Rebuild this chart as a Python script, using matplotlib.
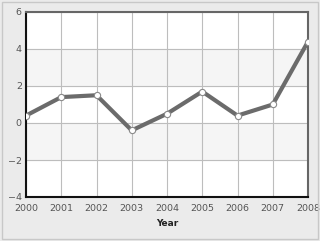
import matplotlib.pyplot as plt
import matplotlib.patches as mpatches
import numpy as np

years = [2000, 2001, 2002, 2003, 2004, 2005, 2006, 2007, 2008]
values = [0.4, 1.4, 1.5, -0.4, 0.5, 1.7, 0.4, 1.0, 4.4]
y_ticks = [-4, -2, 0, 2, 4, 6]

fig = plt.figure(figsize=(3.2, 2.41), dpi=100, facecolor='#ebebeb')
# outer frame
fig.patches.append(mpatches.Rectangle((0.006, 0.008), 0.988, 0.984, transform=fig.transFigure,
                                      fill=False, edgecolor='#c8c8c8', lw=1))

ax = fig.add_axes([26 / 320, 44 / 241, 282 / 320, 185 / 241])
ax.set_facecolor('white')

# alternating horizontal bands
for i, lo in enumerate(y_ticks[:-1]):
    if i % 2 == 1:
        ax.axhspan(lo, lo + 2, color='#f5f5f5', zorder=0)

ax.plot(years, values, color='#6b6b6b', lw=3, zorder=3, solid_joinstyle='round')
ax.plot(years, values, 'o', ms=4.5, mfc='white', mec='#8a8a8a', mew=0.8, zorder=4)

ax.set_xlim(2000, 2008)
ax.set_ylim(-4, 6)
ax.set_xticks(years)
ax.set_yticks(y_ticks)
ax.grid(True, color='#bdbdbd', lw=0.8, zorder=1)
ax.set_axisbelow(True)

ax.tick_params(length=0, labelsize=6.8, labelcolor='#555555', pad=3)
ax.tick_params(axis='x', pad=5)

for s in ['left', 'bottom']:
    ax.spines[s].set_color('#111111')
    ax.spines[s].set_linewidth(1.5)
for s in ['top', 'right']:
    ax.spines[s].set_color('#666666')
    ax.spines[s].set_linewidth(1.5)

ax.set_xlabel('Year', fontsize=6.5, fontweight='bold', color='#222222', labelpad=4)

fig.savefig('out.png', dpi=100, facecolor=fig.get_facecolor())
